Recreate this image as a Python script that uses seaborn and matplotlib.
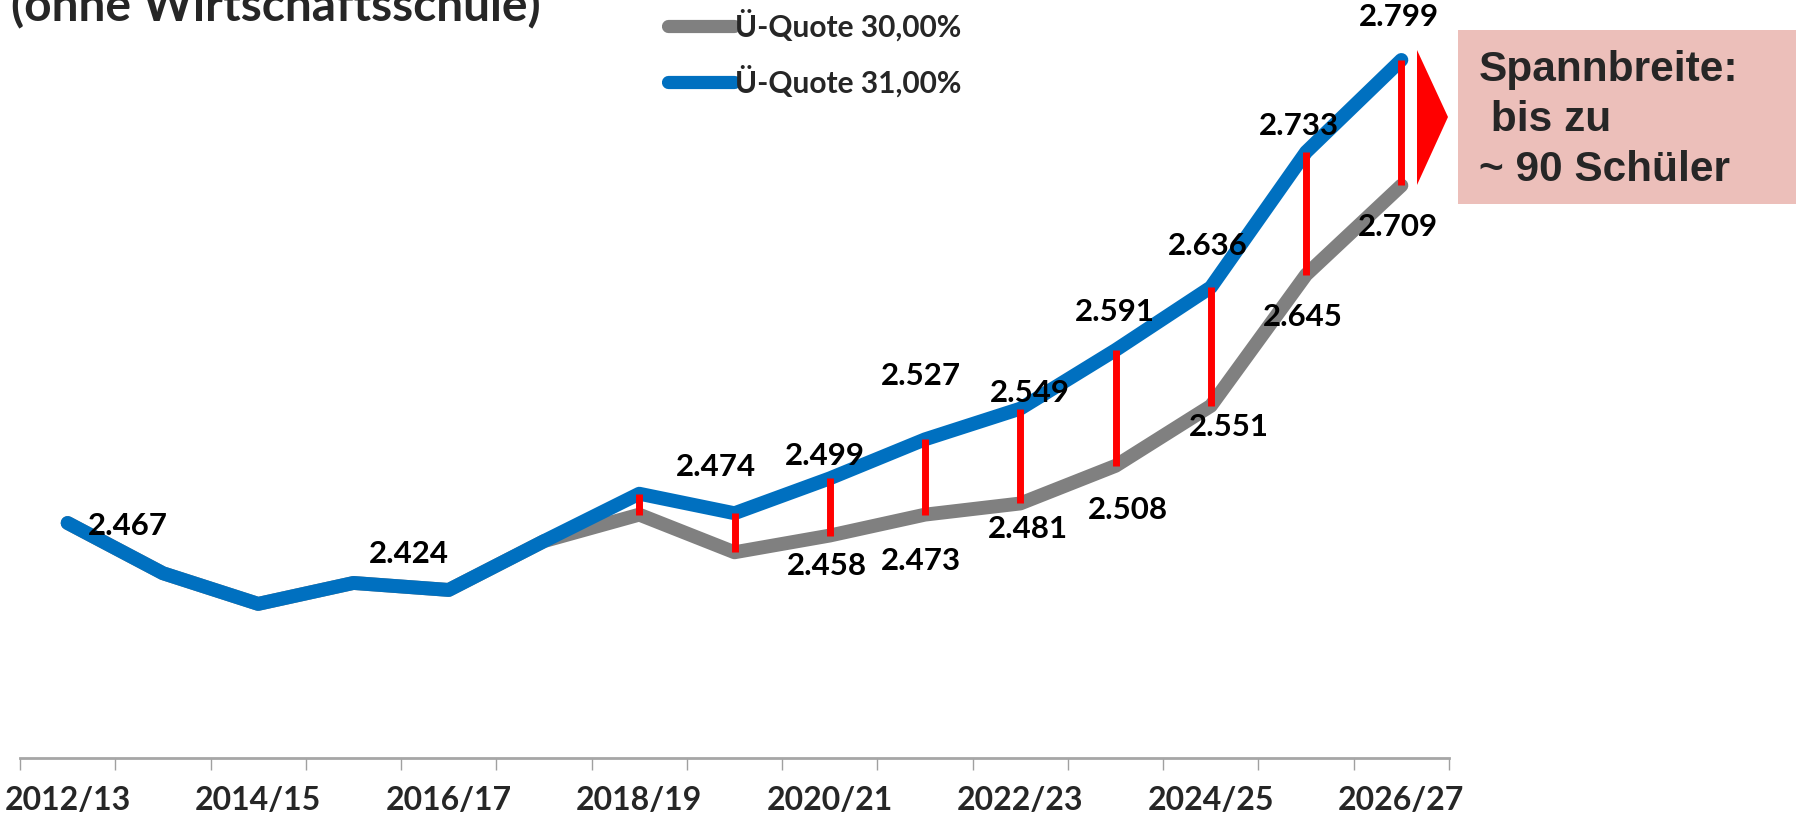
import matplotlib
matplotlib.use("Agg")
import matplotlib.pyplot as plt
from matplotlib.patches import Polygon, Rectangle
import numpy as np
import pandas as pd
import seaborn as sns

# Schuljahre (categories on the x axis)
years = ["2012/13", "2013/14", "2014/15", "2015/16", "2016/17", "2017/18",
         "2018/19", "2019/20", "2020/21", "2021/22", "2022/23", "2023/24",
         "2024/25", "2025/26", "2026/27"]

# Schülerzahlen je Übertrittsquote
quote_30 = [2467, 2431, 2409, 2424, 2419, 2454, 2473, 2446, 2458, 2473,
            2481, 2508, 2551, 2645, 2709]
quote_31 = [2467, 2431, 2409, 2424, 2419, 2454, 2488, 2474, 2499, 2527,
            2549, 2591, 2636, 2733, 2799]

series_names = ["Ü-Quote 30,00%", "Ü-Quote 31,00%"]
title = "(ohne Wirtschaftsschule)"

# which points carry a data label
labelled_31 = [0, 3, 7, 8, 9, 10, 11, 12, 13, 14]
labelled_30 = [8, 9, 10, 11, 12, 13, 14]
span_start = 6  # red range bars from 2018/19 on

# label offsets in pixels (dx, dy up)
offsets_31 = [(60, -3), (55, 29), (-19, 46), (-5, 22), (-4, 63), (10, 16),
              (-1, 38), (-3, 41), (-7, 26), (-2, 43)]
offsets_30 = [(-3, -30), (-4, -46), (8, -26), (12, -44), (18, -21),
              (-3, -42), (-3, -42)]

W, H = 1796, 816


def fmt(v):
    return f"{v:,}".replace(",", ".")


sns.set_theme(style="ticks")
plt.rcParams["font.family"] = ["Lato", "DejaVu Sans"]

df = pd.DataFrame({
    "pos": np.tile(np.arange(len(years)), 2),
    "Schüler": quote_30 + quote_31,
    "Quote": np.repeat(series_names, len(years)),
})

fig = plt.figure(figsize=(W / 100, H / 100), dpi=100)
ax = fig.add_axes([20 / W, 1 - 758 / H, 1429 / W, 758 / H])

sns.lineplot(data=df, x="pos", y="Schüler", hue="Quote", hue_order=series_names,
             palette=["#808080", "#0070C0"], linewidth=10, sort=False, ax=ax,
             solid_capstyle="round", solid_joinstyle="round")

# red bars showing the range between both scenarios
idx = np.arange(span_start, len(years))
ax.vlines(idx, [quote_30[i] for i in idx], [quote_31[i] for i in idx],
          colors="#FF0000", linewidth=5, zorder=5, capstyle="butt")

for i, (dx, dy) in zip(labelled_31, offsets_31):
    ax.annotate(fmt(quote_31[i]), xy=(i, quote_31[i]), xytext=(dx, dy),
                textcoords="offset pixels", ha="center", va="center",
                fontsize=22.5, fontweight="bold", color="black", zorder=6)
for i, (dx, dy) in zip(labelled_30, offsets_30):
    ax.annotate(fmt(quote_30[i]), xy=(i, quote_30[i]), xytext=(dx, dy),
                textcoords="offset pixels", ha="center", va="center",
                fontsize=22.5, fontweight="bold", color="black", zorder=6)

ax.set_xlim(-0.5, len(years) - 0.5)
ax.set_ylim(2298.5, 2842)
ax.set_xticks(np.arange(0, len(years), 2))
ax.set_xticklabels(years[::2], fontsize=23, fontweight="bold")
ax.set_xticks(np.arange(-0.5, len(years), 1), minor=True)
ax.tick_params(axis="x", which="major", length=0, pad=20)
ax.tick_params(axis="x", which="minor", length=8.5, width=1, color="#A0A0A0",
               direction="out", bottom=True)
ax.set_yticks([])
ax.set_xlabel("")
ax.set_ylabel("")
for side in ["left", "top", "right"]:
    ax.spines[side].set_visible(False)
ax.spines["bottom"].set_color("#A6A6A6")
ax.spines["bottom"].set_linewidth(2)

sns.move_legend(ax, "upper left", bbox_to_anchor=(668 / W, 1 - 9 / H),
                bbox_transform=fig.transFigure, frameon=False, title=None,
                fontsize=21.5, handlelength=2.2, handletextpad=0.05,
                labelspacing=0.8, borderpad=0, borderaxespad=0)
leg = ax.get_legend()
for h in leg.legend_handles:
    h.set_linewidth(9.5)
    h.set_solid_capstyle("round")
for t in leg.get_texts():
    t.set_fontweight("bold")

fig.text(11 / W, 1 - 21 / H, title, fontsize=34.5, fontweight="bold",
         ha="left", va="baseline")

# annotation box on the right
fig.add_artist(Rectangle((1458 / W, 1 - 204 / H), 1 - 1458 / W, 174 / H,
                         transform=fig.transFigure, facecolor="#ECBFBA",
                         edgecolor="none"))
fig.add_artist(Polygon([(1417 / W, 1 - 50 / H), (1417 / W, 1 - 185 / H),
                        (1448 / W, 1 - 117 / H)], closed=True,
                       transform=fig.transFigure, facecolor="#FF0000",
                       edgecolor="none"))
spread = quote_31[-1] - quote_30[-1]
fig.text(1479 / W, 1 - 120 / H, f"Spannbreite:\n bis zu\n~ {spread} Schüler",
         family=["Liberation Sans", "DejaVu Sans"], fontsize=30.5,
         fontweight="bold", ha="left", va="center", linespacing=1.32)

fig.savefig("out.png", dpi=100)
